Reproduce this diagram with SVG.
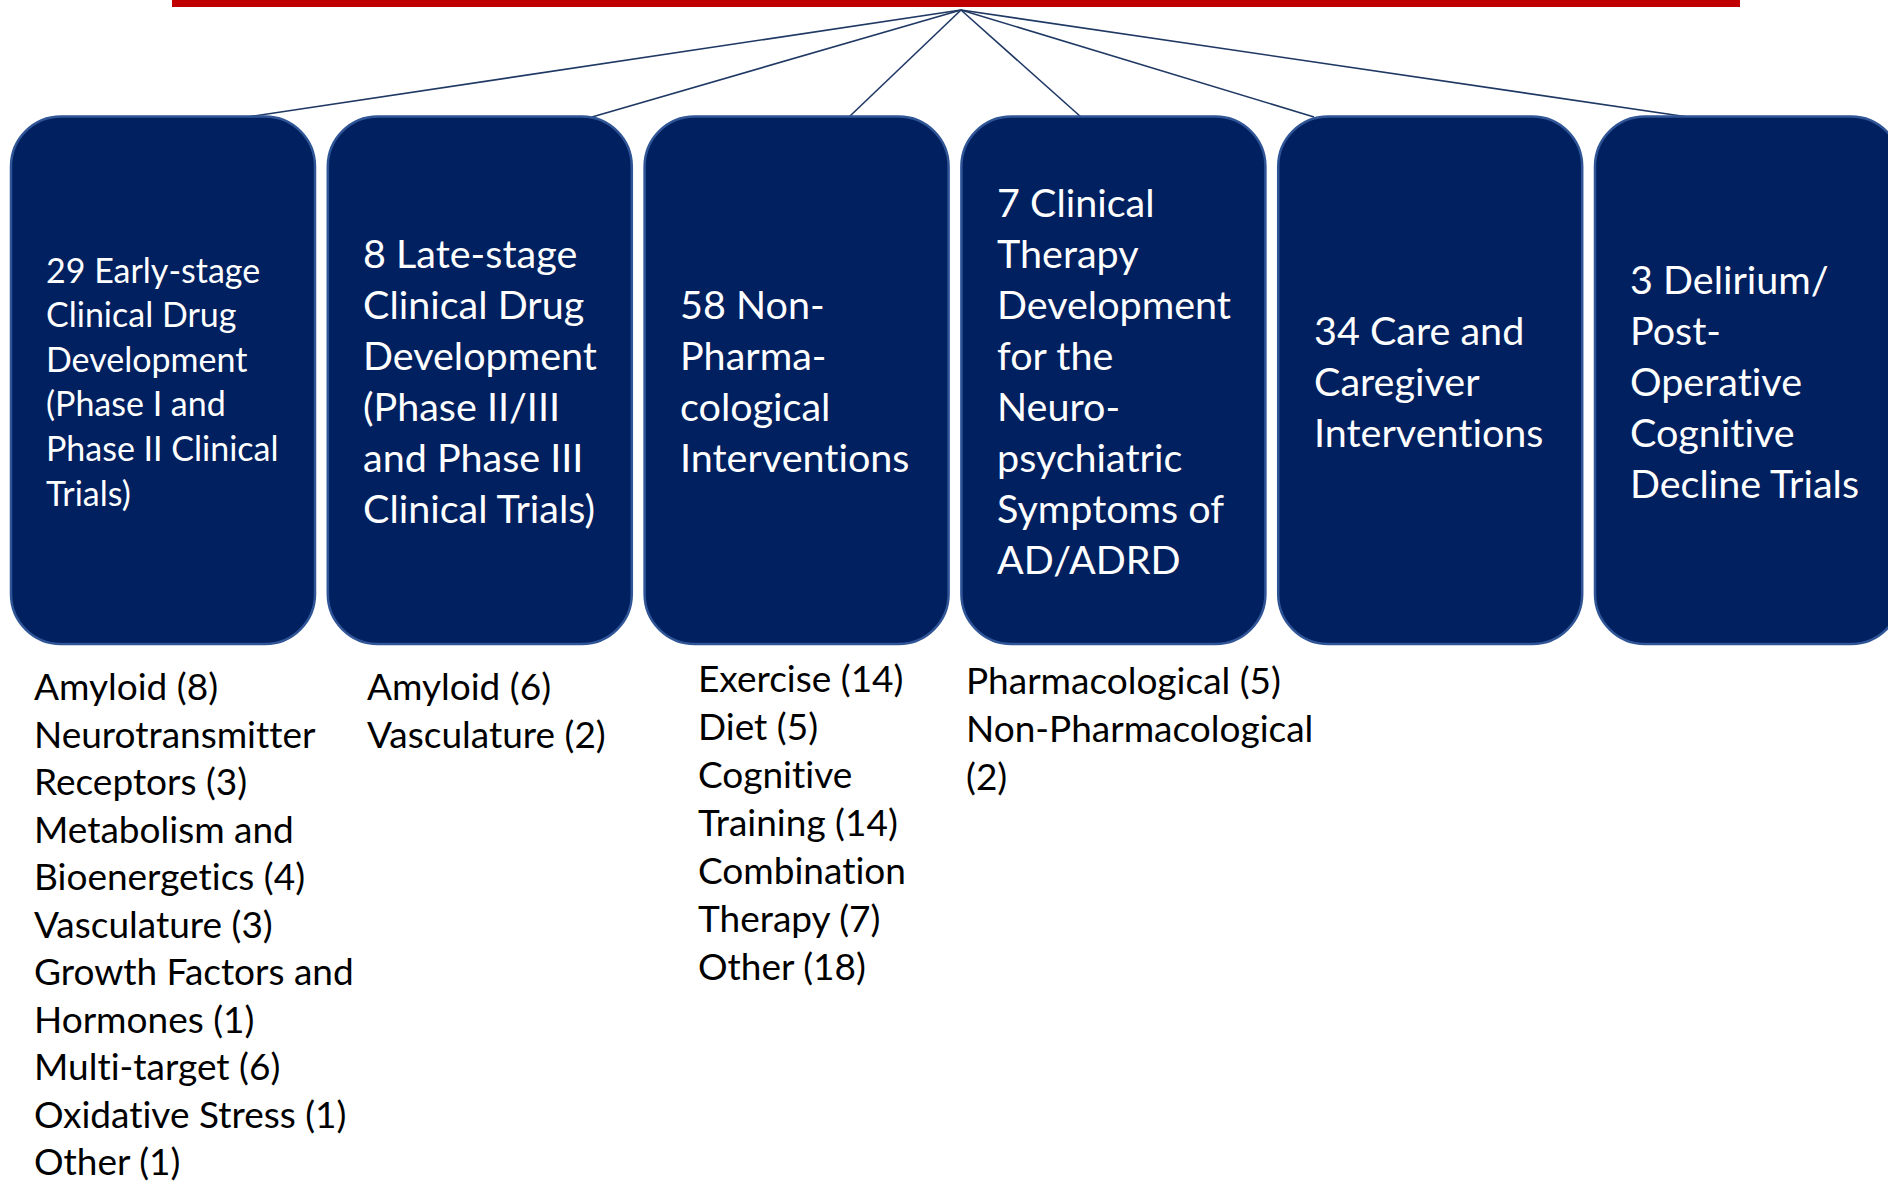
<svg xmlns="http://www.w3.org/2000/svg" width="1888" height="1184" viewBox="0 0 1888 1184">
<style>
.box{fill:#002060;stroke:#2F5597;stroke-width:2.5}
.bt{font-family:Lato,"Open Sans","Liberation Sans",sans-serif;fill:#ffffff;font-size:39.5px;font-variant-ligatures:none}
.bt1{font-size:34px}
.lt{font-family:Lato,"Open Sans","Liberation Sans",sans-serif;fill:#000000;font-size:37px;font-variant-ligatures:none}
.conn{stroke:#1F3864;stroke-width:1.6;fill:none}
</style>
<rect x="0" y="0" width="1888" height="1184" fill="#ffffff"/>
<rect id="topbar" x="172" y="0" width="1568" height="7" fill="#C00000"/>
<g id="connectors">
<line class="conn" x1="961" y1="10" x2="247" y2="117"/>
<line class="conn" x1="961" y1="10" x2="592" y2="117"/>
<line class="conn" x1="961" y1="10" x2="849" y2="117"/>
<line class="conn" x1="961" y1="10" x2="1081" y2="117"/>
<line class="conn" x1="961" y1="10" x2="1314" y2="117"/>
<line class="conn" x1="961" y1="10" x2="1688" y2="117"/>
</g>
<g id="node1">
<rect class="box" x="11" y="116.5" width="304" height="527.5" rx="50"/>
<text class="bt bt1"><tspan x="46" y="282.5">29 Early-stage</tspan><tspan x="46" y="327.1">Clinical Drug</tspan><tspan x="46" y="371.7">Development</tspan><tspan x="46" y="416.3">(Phase I and</tspan><tspan x="46" y="460.9">Phase II Clinical</tspan><tspan x="46" y="505.5">Trials)</tspan></text>
</g>
<g id="node2">
<rect class="box" x="327.8" y="116.5" width="304" height="527.5" rx="50"/>
<text class="bt"><tspan x="363" y="268">8 Late-stage</tspan><tspan x="363" y="319">Clinical Drug</tspan><tspan x="363" y="370">Development</tspan><tspan x="363" y="421">(Phase II/III</tspan><tspan x="363" y="472">and Phase III</tspan><tspan x="363" y="523">Clinical Trials)</tspan></text>
</g>
<g id="node3">
<rect class="box" x="644.6" y="116.5" width="304" height="527.5" rx="50"/>
<text class="bt"><tspan x="680" y="319">58 Non-</tspan><tspan x="680" y="370">Pharma-</tspan><tspan x="680" y="421">cological</tspan><tspan x="680" y="472">Interventions</tspan></text>
</g>
<g id="node4">
<rect class="box" x="961.4" y="116.5" width="304" height="527.5" rx="50"/>
<text class="bt"><tspan x="997" y="217">7 Clinical</tspan><tspan x="997" y="268">Therapy</tspan><tspan x="997" y="319">Development</tspan><tspan x="997" y="370">for the</tspan><tspan x="997" y="421">Neuro-</tspan><tspan x="997" y="472">psychiatric</tspan><tspan x="997" y="523">Symptoms of</tspan><tspan x="997" y="574">AD/ADRD</tspan></text>
</g>
<g id="node5">
<rect class="box" x="1278.2" y="116.5" width="304" height="527.5" rx="50"/>
<text class="bt"><tspan x="1314" y="344.5">34 Care and</tspan><tspan x="1314" y="395.5">Caregiver</tspan><tspan x="1314" y="446.5">Interventions</tspan></text>
</g>
<g id="node6">
<rect class="box" x="1595" y="116.5" width="306" height="527.5" rx="50"/>
<text class="bt"><tspan x="1630" y="293.5">3 Delirium/</tspan><tspan x="1630" y="344.5">Post-</tspan><tspan x="1630" y="395.5">Operative</tspan><tspan x="1630" y="446.5">Cognitive</tspan><tspan x="1630" y="497.5">Decline Trials</tspan></text>
</g>
<g id="list1">
<text class="lt"><tspan x="34" y="700">Amyloid (8)</tspan><tspan x="34" y="747.5">Neurotransmitter</tspan><tspan x="34" y="795">Receptors (3)</tspan><tspan x="34" y="842.5">Metabolism and</tspan><tspan x="34" y="890">Bioenergetics (4)</tspan><tspan x="34" y="937.5">Vasculature (3)</tspan><tspan x="34" y="985">Growth Factors and</tspan><tspan x="34" y="1032.5">Hormones (1)</tspan><tspan x="34" y="1080">Multi-target (6)</tspan><tspan x="34" y="1127.5">Oxidative Stress (1)</tspan><tspan x="34" y="1175">Other (1)</tspan></text>
</g>
<g id="list2">
<text class="lt"><tspan x="367" y="700">Amyloid (6)</tspan><tspan x="367" y="747.5">Vasculature (2)</tspan></text>
</g>
<g id="list3">
<text class="lt"><tspan x="698" y="692">Exercise (14)</tspan><tspan x="698" y="740">Diet (5)</tspan><tspan x="698" y="788">Cognitive</tspan><tspan x="698" y="836">Training (14)</tspan><tspan x="698" y="884">Combination</tspan><tspan x="698" y="932">Therapy (7)</tspan><tspan x="698" y="980">Other (18)</tspan></text>
</g>
<g id="list4">
<text class="lt"><tspan x="966" y="694">Pharmacological (5)</tspan><tspan x="966" y="742">Non-Pharmacological</tspan><tspan x="966" y="790">(2)</tspan></text>
</g>
</svg>
